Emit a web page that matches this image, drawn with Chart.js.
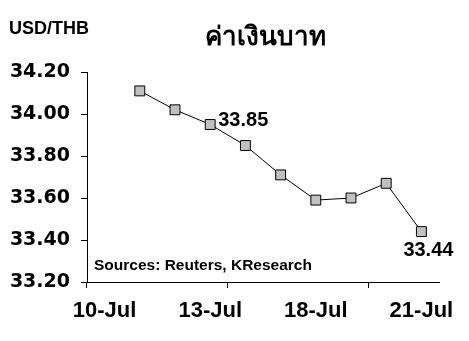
<!DOCTYPE html>
<html>
<head>
<meta charset="utf-8">
<script src="https://cdn.jsdelivr.net/npm/chart.js@4"></script>
<style>
  html, body { margin: 0; padding: 0; background: #fff; }
  #wrap { width: 469px; height: 341px; }
</style>
</head>
<body>
<div id="wrap"><canvas id="thbChart" width="469" height="341"></canvas></div>
<script>
const days = ['10-Jul', '11-Jul', '12-Jul', '13-Jul', '14-Jul', '17-Jul', '18-Jul', '19-Jul', '20-Jul', '21-Jul'];
const usdThb = [null, 34.11, 34.02, 33.95, 33.85, 33.71, 33.59, 33.60, 33.67, 33.44];
const pointNotes = [null, null, null, '33.85', null, null, null, null, null, '33.44'];
const yTicks = [33.20, 33.40, 33.60, 33.80, 34.00, 34.20];

const titleText = 'ค่าเงินบาท';
const unitText = 'USD/THB';
const sourceText = 'Sources: Reuters, KResearch';

// texts around the plot + the two value notes
const extras = {
    id: 'extras',
    afterDraw(chart) {
        const c = chart.ctx;
        const meta = chart.getDatasetMeta(0);
        c.save();
        c.fillStyle = '#000';
        c.textBaseline = 'alphabetic';

        c.font = 'bold 18px "Liberation Sans", Arial, sans-serif';
        c.textAlign = 'left';
        c.fillText(unitText, 9, 34);

        c.font = 'bold 26px "Liberation Sans", Arial, sans-serif';
        c.textAlign = 'center';
        c.fillText(titleText, 265, 45);

        c.font = 'bold 15.5px "Liberation Sans", Arial, sans-serif';
        c.textAlign = 'left';
        c.fillText(sourceText, 94, 270);

        c.font = 'bold 20px "Liberation Sans", Arial, sans-serif';
        pointNotes.forEach((txt, i) => {
            if (!txt) return;
            const p = meta.data[i];
            if (i === pointNotes.length - 1) {
                c.textAlign = 'center';
                c.fillText(txt, p.x + 7, p.y + 24);
            } else {
                c.textAlign = 'left';
                c.fillText(txt, p.x + 8, p.y + 1);
            }
        });
        c.restore();
    }
};

new Chart(document.getElementById('thbChart').getContext('2d'), {
    type: 'line',
    data: {
        labels: days,
        datasets: [{
            data: usdThb,
            borderColor: '#000',
            borderWidth: 1,
            pointStyle: 'rect',
            pointRadius: 7,
            pointBackgroundColor: '#c0c0c0',
            pointBorderColor: '#000',
            pointBorderWidth: 1,
            tension: 0
        }]
    },
    plugins: [extras],
    options: {
        responsive: false,
        animation: false,
        layout: { padding: { left: 0, top: 72, right: 30, bottom: 0 } },
        plugins: {
            legend: { display: false },
            tooltip: { enabled: false }
        },
        scales: {
            x: {
                type: 'category',
                offset: true,
                afterFit: s => { s.height = 59; },
                border: { display: true, color: '#000', width: 1 },
                grid: {
                    offset: true,
                    drawOnChartArea: false,
                    drawTicks: true,
                    tickLength: 6,
                    color: ctx => (ctx.index % 4 === 0 ? '#000' : 'rgba(0,0,0,0)')
                },
                ticks: {
                    autoSkip: false,
                    maxRotation: 0,
                    padding: 10,
                    color: '#000',
                    font: { family: '"Liberation Sans", Arial, sans-serif', size: 22, weight: 'bold' },
                    callback: (v, i) => (i % 3 === 0 ? days[i] : '')
                }
            },
            y: {
                min: 33.2,
                max: 34.2,
                afterFit: s => { s.width = 87; },
                afterBuildTicks: s => { s.ticks = yTicks.map(v => ({ value: v })); },
                border: { display: true, color: '#000', width: 1 },
                grid: {
                    drawOnChartArea: false,
                    drawTicks: true,
                    tickLength: 6,
                    color: '#000'
                },
                ticks: {
                    padding: 11,
                    color: '#000',
                    font: { family: '"DejaVu Sans", sans-serif', size: 19, weight: 'bold' },
                    callback: v => Number(v).toFixed(2)
                }
            }
        }
    }
});
</script>
</body>
</html>
